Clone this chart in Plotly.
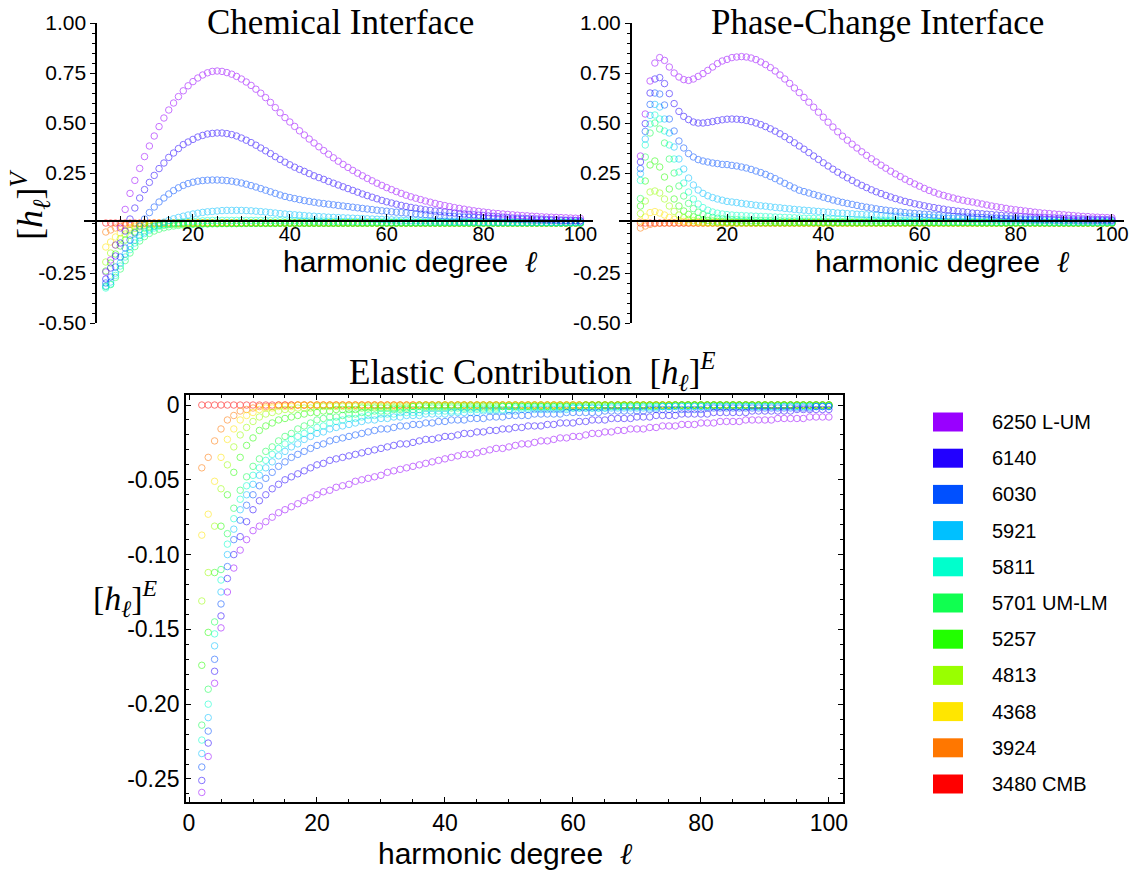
import plotly.graph_objects as go

W, H = 1134, 871

# harmonic degree l = 2 .. 100
L = list(range(2, 101))

# radius labels (km) and colours, deepest first
NAMES = ["3480 CMB", "3924", "4368", "4813", "5257", "5701 UM-LM",
         "5811", "5921", "6030", "6140", "6250 L-UM"]
COLORS = ["#ff0000", "#ff7700", "#ffe600", "#99ff00", "#22ff00", "#10ff50",
          "#00ffcc", "#00c0ff", "#0050ff", "#2200ff", "#9900ff"]

# ---------------- values in units of 1e-3, l = 2..100 ----------------
Z = [0, 0, 0, 0, 0, 0, 0, 0, 0, 0]

# ---- Chemical interface [h_l]^V ----
C_3480 = Z + Z + Z + Z + Z + Z + Z + Z + Z + [0, 0, 0, 0, 0, 0, 0, 0, 0]
C_3924 = [-45, -35, -25, -17, -11, -7, -4, -2, -1, -1,
          0, 0, 0, 0, 0, 0, 0, 0, 0, 0] + Z + Z + Z + Z + Z + Z + Z + [0, 0, 0, 0, 0, 0, 0, 0, 0]
C_4368 = [-120, -95, -70, -50, -35, -24, -16, -10, -6, -4,
          -2, -1, -1, 0, 0, 0, 0, 0, 0, 0] + Z + Z + Z + Z + Z + Z + Z + [0, 0, 0, 0, 0, 0, 0, 0, 0]
C_4813 = [-195, -150, -110, -78, -55, -38, -27, -19, -13, -9,
          -6, -4, -3, -2, -1, -1, 0, 0, 0, 0] + Z + Z + Z + Z + Z + Z + Z + [0, 0, 0, 0, 0, 0, 0, 0, 0]
C_5257 = [-240, -200, -155, -115, -85, -62, -45, -33, -25, -19,
          -15, -12, -10, -8, -7, -6, -5, -4, -4, -3,
          -3, -3, -2, -2, -2, -2, -2, -2, -2, -1,
          -1, -1, -1, -1, -1, -1, -1, -1, -1, -1,
          -1, -1, -1, -1, -1, -1, -1, -1, -1, 0] + Z + Z + Z + Z + [0, 0, 0, 0, 0, 0, 0, 0, 0]
C_5701 = [-318, -308, -272, -230, -188, -150, -118, -90, -68, -52,
          -40, -31, -24, -19, -15, -12, -10, -8, -7, -6,
          -5, -5, -4, -4, -3, -3, -3, -3, -2, -2,
          -2, -2, -2, -2, -2, -2, -1, -1, -1, -1,
          -1, -1, -1, -1, -1, -1, -1, -1, -1, -1,
          -1, -1, -1, -1, -1, 0, 0, 0, 0, 0] + Z + Z + Z + [0, 0, 0, 0, 0, 0, 0, 0, 0]
C_5811 = [-325, -305, -262, -215, -170, -133, -100, -74, -53, -37,
          -25, -16, -9, -4, -1, 2, 5, 7, 9, 10,
          11, 12, 13, 13, 13, 13, 13, 13, 13, 13,
          13, 13, 13, 13, 12, 12, 12, 11, 11, 11,
          10, 10, 10, 9, 9, 9, 8, 8, 8, 7,
          7, 7, 7, 6, 6, 6, 6, 5, 5, 5,
          5, 5, 4, 4, 4, 4, 4, 3, 3, 3,
          3, 3, 3, 3, 3, 2, 2, 2, 2, 2,
          2, 2, 2, 2, 2, 2, 2, 2, 2, 2,
          2, 2, 2, 1, 1, 1, 1, 1, 1]
C_5921 = [-315, -295, -250, -200, -155, -117, -86, -62, -45, -30,
          -17, -6, 4, 13, 21, 28, 34, 40, 45, 49,
          53, 56, 58, 60, 62, 63, 63, 63, 63, 62,
          61, 59, 57, 55, 52, 50, 47, 45, 43, 41,
          39, 37, 35, 34, 32, 31, 29, 28, 27, 26,
          25, 24, 23, 22, 21, 20, 19, 18, 17, 16,
          15, 14, 13, 13, 12, 11, 11, 10, 10, 9,
          9, 8, 8, 8, 7, 7, 7, 6, 6, 6,
          6, 5, 5, 5, 5, 5, 4, 4, 4, 4,
          4, 4, 3, 3, 3, 3, 3, 3, 3]
C_6030 = [-300, -270, -220, -170, -125, -85, -50, -15, 20, 52,
          80, 105, 125, 145, 162, 176, 188, 197, 204, 209,
          212, 214, 215, 215, 214, 212, 209, 205, 200, 194,
          187, 180, 172, 164, 156, 148, 140, 133, 127, 122,
          117, 112, 108, 104, 100, 97, 94, 91, 88, 85,
          82, 79, 76, 73, 70, 67, 64, 61, 59, 56,
          54, 52, 50, 48, 46, 44, 42, 40, 38, 36,
          35, 33, 32, 30, 29, 28, 27, 26, 25, 24,
          23, 22, 21, 20, 19, 18, 17, 16, 15, 14,
          14, 13, 12, 12, 11, 11, 10, 10, 9]
C_6140 = [-280, -225, -165, -100, -40, 20, 75, 125, 167, 203,
          238, 272, 300, 328, 350, 372, 392, 405, 418, 430,
          438, 445, 448, 450, 450, 447, 442, 435, 425, 414,
          402, 389, 375, 361, 347, 332, 318, 304, 291, 279,
          268, 258, 247, 236, 227, 218, 208, 199, 190, 181,
          172, 163, 154, 145, 137, 129, 121, 113, 106, 100,
          94, 88, 83, 78, 74, 70, 66, 63, 60, 57,
          55, 52, 50, 47, 45, 43, 41, 39, 37, 35,
          33, 31, 29, 27, 25, 24, 23, 22, 21, 20,
          19, 18, 17, 16, 15, 14, 14, 13, 12]
C_6250 = [-245, -185, -110, -25, 68, 148, 213, 273, 332, 385,
          435, 482, 525, 565, 600, 632, 661, 686, 707, 725,
          740, 751, 758, 760, 758, 752, 744, 733, 720, 705,
          688, 669, 649, 627, 603, 577, 551, 527, 505, 483,
          461, 440, 420, 400, 381, 362, 344, 326, 309, 293,
          278, 263, 249, 236, 223, 211, 199, 188, 177, 167,
          157, 148, 139, 131, 124, 117, 110, 104, 98, 92,
          87, 82, 77, 73, 69, 65, 61, 58, 55, 52,
          49, 47, 45, 43, 41, 39, 37, 36, 34, 33,
          31, 30, 29, 28, 27, 26, 25, 24, 23]

# ---- Phase-change interface [h_l]^V ----
P_3480 = Z + Z + Z + Z + Z + Z + Z + Z + Z + [0, 0, 0, 0, 0, 0, 0, 0, 0]
P_3924 = [-25, -15, -7, -3, -1, 0, 0, 0, 0, 0] + Z + Z + Z + Z + Z + Z + Z + Z + [0, 0, 0, 0, 0, 0, 0, 0, 0]
P_4368 = [10, 30, 52, 57, 50, 40, 28, 19, 12, 8,
          5, 3, 2, 1, 0, 0, 0, 0, 0, 0] + Z + Z + Z + Z + Z + Z + Z + [0, 0, 0, 0, 0, 0, 0, 0, 0]
P_4813 = [47, 110, 155, 160, 150, 120, 85, 58, 40, 27,
          18, 12, 8, 5, 3, 2, 2, 1, 1, 1] + Z + Z + Z + Z + Z + Z + Z + [0, 0, 0, 0, 0, 0, 0, 0, 0]
P_5257 = [85, 210, 290, 310, 280, 230, 170, 120, 85, 60,
          43, 31, 23, 17, 13, 10, 8, 7, 6, 5,
          5, 4, 4, 4, 3, 3, 3, 3, 3, 2,
          2, 2, 2, 2, 2, 2, 2, 2, 2, 2,
          2, 2, 2, 2, 1, 1, 1, 1, 1, 1,
          1, 1, 1, 1, 1, 1, 1, 1, 1, 1,
          1, 1, 1, 1, 1, 1, 1, 1, 1, 1] + Z + Z + [0, 0, 0, 0, 0, 0, 0, 0, 0]
P_5701 = [122, 330, 450, 500, 470, 400, 320, 250, 185, 135,
          98, 72, 54, 42, 34, 28, 24, 21, 19, 17,
          16, 15, 14, 13, 12, 12, 11, 11, 10, 10,
          9, 9, 9, 8, 8, 8, 7, 7, 7, 7,
          6, 6, 6, 6, 5, 5, 5, 5, 5, 4,
          4, 4, 4, 4, 4, 4, 4, 4, 4, 4,
          3, 3, 3, 3, 3, 3, 3, 3, 3, 3,
          3, 2, 2, 2, 2, 2, 2, 2, 2, 2,
          2, 2, 2, 1, 1, 1, 1, 1, 1, 1,
          1, 1, 1, 1, 1, 1, 1, 1, 1]
P_5811 = [213, 390, 495, 540, 520, 460, 390, 320, 255, 200,
          155, 120, 95, 77, 64, 55, 49, 45, 42, 40,
          38, 37, 36, 35, 34, 33, 32, 31, 30, 29,
          28, 27, 26, 25, 24, 23, 23, 22, 21, 20,
          20, 19, 18, 18, 17, 16, 16, 15, 15, 14,
          14, 13, 13, 12, 12, 11, 11, 11, 10, 10,
          9, 9, 9, 8, 8, 8, 7, 7, 7, 7,
          6, 6, 6, 6, 5, 5, 5, 5, 5, 4,
          4, 4, 4, 4, 4, 3, 3, 3, 3, 3,
          3, 3, 3, 3, 2, 2, 2, 2, 2]
P_5921 = [247, 420, 538, 593, 580, 520, 450, 380, 320, 270,
          225, 190, 165, 148, 136, 127, 120, 114, 108, 105,
          102, 98, 95, 92, 89, 86, 84, 81, 78, 76,
          73, 71, 68, 66, 64, 62, 60, 58, 56, 54,
          52, 50, 49, 47, 46, 44, 43, 41, 40, 39,
          37, 36, 35, 34, 33, 32, 31, 30, 29, 28,
          27, 26, 25, 24, 23, 22, 22, 21, 20, 19,
          19, 18, 17, 17, 16, 16, 15, 15, 14, 14,
          13, 13, 12, 12, 12, 11, 11, 11, 10, 10,
          10, 9, 9, 9, 8, 8, 8, 8, 7]
P_6030 = [272, 458, 593, 650, 645, 590, 520, 460, 410, 375,
          347, 330, 317, 310, 305, 300, 297, 293, 292, 288,
          285, 280, 275, 268, 260, 252, 243, 233, 222, 210,
          198, 186, 175, 164, 157, 150, 143, 136, 129, 122,
          115, 109, 103, 98, 93, 88, 83, 79, 75, 71,
          67, 64, 61, 58, 55, 52, 50, 48, 46, 44,
          42, 40, 38, 36, 35, 33, 32, 31, 30, 29,
          28, 27, 26, 25, 24, 23, 22, 21, 21, 20,
          19, 19, 18, 18, 17, 17, 16, 16, 15, 15,
          15, 14, 14, 14, 13, 13, 13, 12, 12]
P_6140 = [305, 497, 650, 720, 727, 697, 647, 597, 558, 533,
          517, 505, 500, 500, 503, 507, 512, 516, 519, 520,
          519, 517, 513, 507, 500, 492, 482, 471, 459, 446,
          432, 417, 401, 385, 369, 352, 335, 318, 301, 285,
          269, 254, 240, 226, 213, 200, 188, 177, 166, 156,
          147, 138, 130, 122, 115, 108, 102, 96, 91, 86,
          81, 77, 73, 69, 65, 62, 59, 56, 53, 50,
          48, 46, 44, 42, 40, 38, 36, 35, 33, 32,
          31, 30, 29, 28, 27, 26, 25, 24, 23, 22,
          21, 21, 20, 19, 19, 18, 17, 17, 16]
P_6250 = [335, 545, 710, 800, 827, 813, 780, 750, 730, 717,
          713, 720, 733, 747, 763, 780, 797, 810, 818, 827,
          830, 832, 830, 825, 817, 805, 792, 777, 760, 740,
          720, 698, 675, 652, 628, 604, 579, 554, 529, 504,
          480, 456, 434, 414, 394, 375, 356, 338, 321, 305,
          289, 274, 259, 245, 232, 219, 207, 195, 184, 173,
          163, 154, 145, 138, 131, 125, 119, 114, 109, 105,
          100, 95, 90, 85, 81, 77, 73, 69, 66, 63,
          60, 57, 54, 51, 49, 47, 45, 43, 41, 39,
          37, 35, 33, 32, 30, 29, 28, 27, 26]

# ---- Elastic contribution [h_l]^E ----
E_3480 = Z + Z + Z + Z + Z + Z + Z + Z + Z + [0, 0, 0, 0, 0, 0, 0, 0, 0]
E_3924 = [-42, -35, -24, -16, -10, -7, -4, -3, -2, -1,
          -1, -1, 0, 0, 0, 0, 0, 0, 0, 0] + Z + Z + Z + Z + Z + Z + Z + [0, 0, 0, 0, 0, 0, 0, 0, 0]
E_4368 = [-87, -73, -51, -35, -23, -16, -10, -7, -5, -3,
          -2, -2, -1, -1, -1, 0, 0, 0, 0, 0] + Z + Z + Z + Z + Z + Z + Z + [0, 0, 0, 0, 0, 0, 0, 0, 0]
E_4813 = [-131, -112, -81, -56, -40, -28, -20, -15, -11, -8,
          -6, -5, -4, -3, -3, -2, -2, -2, -1, -1,
          -1, -1, -1, -1, -1, -1, -1, -1, -1, -1,
          -1, -1, -1, -1, 0, 0, 0, 0, 0, 0] + Z + Z + Z + Z + Z + [0, 0, 0, 0, 0, 0, 0, 0, 0]
E_5257 = [-174, -152, -112, -81, -60, -45, -35, -27, -22, -17,
          -14, -12, -10, -9, -8, -7, -6, -5, -5, -4,
          -4, -3, -3, -3, -3, -2, -2, -2, -2, -2,
          -2, -2, -2, -1, -1, -1, -1, -1, -1, -1,
          -1, -1, -1, -1, -1, -1, -1, -1, -1, -1,
          -1, -1, -1, -1, -1, -1, -1, -1, -1, -1] + Z + Z + Z + [0, 0, 0, 0, 0, 0, 0, 0, 0]
E_5701 = [-214, -190, -145, -110, -86, -69, -57, -48, -41, -36,
          -31, -28, -24, -21, -19, -16, -14, -12, -10, -9,
          -8, -8, -7, -6, -6, -5, -5, -4, -4, -4,
          -3, -3, -3, -3, -3, -2, -2, -2, -2, -2,
          -2, -2, -2, -2, -2, -2, -2, -1, -1, -1,
          -1, -1, -1, -1, -1, -1, -1, -1, -1, -1,
          -1, -1, -1, -1, -1, -1, -1, -1, -1, -1,
          -1, -1, -1, -1, 0, 0, 0, 0, 0, 0] + Z + [0, 0, 0, 0, 0, 0, 0, 0, 0]
E_5811 = [-224, -200, -153, -117, -93, -76, -63, -54, -47, -42,
          -37, -33, -29, -26, -23, -21, -19, -17, -15, -14,
          -12, -11, -10, -9, -9, -8, -7, -7, -6, -6,
          -6, -5, -5, -5, -5, -4, -4, -4, -4, -4,
          -4, -3, -3, -3, -3, -3, -3, -3, -3, -2,
          -2, -2, -2, -2, -2, -2, -2, -2, -2, -2,
          -2, -2, -2, -2, -1, -1, -1, -1, -1, -1,
          -1, -1, -1, -1, -1, -1, -1, -1, -1, -1,
          -1, -1, -1, -1, -1, -1, -1, -1, -1, -1,
          -1, -1, -1, -1, -1, -1, -1, -1, -1]
E_5921 = [-233, -209, -161, -125, -100, -83, -70, -60, -53, -47,
          -42, -38, -34, -31, -28, -26, -23, -21, -19, -18,
          -16, -15, -14, -13, -12, -11, -10, -10, -9, -9,
          -8, -8, -7, -7, -7, -6, -6, -6, -6, -5,
          -5, -5, -5, -5, -4, -4, -4, -4, -4, -4,
          -3, -3, -3, -3, -3, -3, -3, -3, -2, -2,
          -2, -2, -2, -2, -2, -2, -2, -2, -2, -2,
          -2, -2, -1, -1, -1, -1, -1, -1, -1, -1,
          -1, -1, -1, -1, -1, -1, -1, -1, -1, -1,
          -1, -1, -1, -1, -1, -1, -1, -1, -1]
E_6030 = [-242, -218, -170, -133, -108, -90, -77, -67, -60, -54,
          -49, -45, -41, -38, -35, -33, -31, -29, -27, -26,
          -24, -23, -22, -21, -20, -19, -18, -17, -16, -16,
          -15, -14, -14, -13, -13, -12, -12, -11, -11, -10,
          -10, -10, -9, -9, -9, -8, -8, -8, -7, -7,
          -7, -7, -6, -6, -6, -6, -6, -5, -5, -5,
          -5, -5, -5, -4, -4, -4, -4, -4, -4, -4,
          -3, -3, -3, -3, -3, -3, -3, -3, -3, -2,
          -2, -2, -2, -2, -2, -2, -2, -2, -2, -2,
          -2, -2, -2, -2, -2, -2, -1, -1, -1]
E_6140 = [-251, -226, -178, -141, -116, -100, -88, -78, -70, -64,
          -60, -56, -53, -50, -48, -46, -44, -42, -40, -39,
          -37, -36, -35, -34, -33, -32, -31, -30, -29, -28,
          -27, -26, -26, -25, -24, -23, -23, -22, -21, -21,
          -20, -19, -19, -18, -18, -17, -17, -16, -16, -15,
          -15, -14, -14, -14, -13, -13, -12, -12, -12, -11,
          -11, -10, -10, -10, -9, -9, -9, -9, -8, -8,
          -8, -7, -7, -7, -7, -6, -6, -6, -6, -6,
          -5, -5, -5, -5, -5, -5, -4, -4, -4, -4,
          -4, -4, -4, -3, -3, -3, -3, -3, -3]
E_6250 = [-259, -235, -186, -149, -125, -109, -97, -90, -84, -81,
          -78, -75, -72, -70, -68, -66, -64, -62, -60, -58,
          -57, -55, -54, -53, -51, -50, -49, -48, -47, -45,
          -44, -43, -42, -41, -40, -39, -38, -37, -36, -35,
          -34, -33, -33, -32, -31, -30, -29, -29, -28, -27,
          -26, -26, -25, -24, -24, -23, -22, -22, -21, -21,
          -20, -19, -19, -18, -18, -17, -17, -16, -16, -16,
          -15, -15, -14, -14, -14, -13, -13, -13, -12, -12,
          -12, -11, -11, -11, -11, -10, -10, -10, -10, -10,
          -9, -9, -9, -9, -9, -8, -8, -8, -8]

CHEM = [C_3480, C_3924, C_4368, C_4813, C_5257, C_5701, C_5811, C_5921, C_6030, C_6140, C_6250]
PHASE = [P_3480, P_3924, P_4368, P_4813, P_5257, P_5701, P_5811, P_5921, P_6030, P_6140, P_6250]
ELAS = [E_3480, E_3924, E_4368, E_4813, E_5257, E_5701, E_5811, E_5921, E_6030, E_6140, E_6250]

for group in (CHEM, PHASE, ELAS):
    for s in group:
        assert len(s) == len(L), len(s)


def px(p):
    return p / W


def py(p):
    return 1 - p / H


SANS = "Liberation Sans, Arial, sans-serif"
SERIF = "Liberation Serif, Times New Roman, serif"

fig = go.Figure()
panels = [(CHEM, "x", "y"), (PHASE, "x2", "y2"), (ELAS, "x3", "y3")]
for data, xa, ya in panels:
    for name, col, vals in zip(NAMES, COLORS, data):
        fig.add_trace(go.Scatter(
            x=L, y=[v / 1000 for v in vals], mode="markers", name=name,
            xaxis=xa, yaxis=ya, showlegend=False, opacity=0.55,
            marker=dict(symbol="circle-open", size=6.5, color=col, line=dict(width=1)),
            hoverinfo="skip"))

top_ytick = [1.0, 0.75, 0.5, 0.25, -0.25, -0.5]
top_ytxt = ["%.2f" % v for v in top_ytick]
top_xtick = [20, 40, 60, 80, 100]

def top_x(domain, ypos):
    return dict(domain=domain, range=[-2.5, 102.5], anchor="free", position=ypos,
                showline=True, linecolor="black", linewidth=1.6, showgrid=False,
                zeroline=False, ticks="inside", ticklen=6, tickwidth=1.3,
                tickcolor="black", tickvals=top_xtick, ticklabelstandoff=-5,
                tickfont=dict(family=SANS, size=20, color="black"),
                minor=dict(dtick=5, tick0=0, ticks="inside", ticklen=4,
                           tickwidth=1, tickcolor="black"))

def top_y(xpos):
    return dict(domain=[py(323), py(23)], range=[-0.5, 1.0], anchor="free",
                position=xpos, showline=True, linecolor="black", linewidth=1.6,
                showgrid=False, zeroline=False, ticks="outside", ticklen=5,
                tickwidth=1.3, tickcolor="black", tickvals=top_ytick,
                ticktext=top_ytxt, tickfont=dict(family=SANS, size=21, color="black"),
                minor=dict(dtick=0.05, tick0=0, ticks="outside", ticklen=3,
                           tickwidth=1, tickcolor="black"))

bot_ytick = [0, -0.05, -0.10, -0.15, -0.20, -0.25]
bot_ytxt = ["0", "-0.05", "-0.10", "-0.15", "-0.20", "-0.25"]

fig.update_layout(
    width=W, height=H, autosize=False,
    margin=dict(l=0, r=0, t=0, b=0, pad=0, autoexpand=False),
    paper_bgcolor="white", plot_bgcolor="white", showlegend=False,
    xaxis=top_x([px(84), px(592.5)], py(221)),
    yaxis=top_y(px(96.2)),
    xaxis2=top_x([px(618.8), px(1124)], py(221)),
    yaxis2=top_y(px(630.8)),
    xaxis3=dict(domain=[px(186), px(843)], range=[-0.47, 102.2], anchor="y3",
                showline=True, mirror="allticks", linecolor="black", linewidth=1.6,
                showgrid=False, zeroline=False, ticks="inside", ticklen=5,
                tickwidth=1.3, tickcolor="black", tickvals=[0, 20, 40, 60, 80, 100],
                ticklabelstandoff=0,
                tickfont=dict(family=SANS, size=23, color="black"),
                minor=dict(dtick=5, tick0=0, ticks="inside", ticklen=3,
                           tickwidth=1, tickcolor="black")),
    yaxis3=dict(domain=[py(802), py(395)], range=[-0.2654, 0.0067], anchor="x3",
                showline=True, mirror="allticks", linecolor="black", linewidth=1.6,
                showgrid=False, zeroline=False, ticks="inside", ticklen=5,
                tickwidth=1.3, tickcolor="black", tickvals=bot_ytick,
                ticktext=bot_ytxt, tickfont=dict(family=SANS, size=23, color="black"),
                minor=dict(dtick=0.01, tick0=0, ticks="inside", ticklen=3,
                           tickwidth=1, tickcolor="black")),
)

ELL = "<span style='font-family:Liberation Serif'><i>ℓ</i></span>"
HV = "[<i>h</i><sub><i>ℓ</i></sub>]<sup><i>V</i></sup>"
HE = "[<i>h</i><sub><i>ℓ</i></sub>]<sup><i>E</i></sup>"

ann = []
def text(x, y, s, size, family, **kw):
    d = dict(x=px(x), y=py(y), xref="paper", yref="paper", text=s, showarrow=False,
             font=dict(family=family, size=size, color="black"),
             xanchor="center", yanchor="middle")
    d.update(kw)
    ann.append(d)

text(340, 1, "Chemical Interface", 35, SERIF, yanchor="top")
text(877, 1, "Phase-Change Interface", 35, SERIF, yanchor="top")
text(532, 372, "Elastic Contribution&nbsp;&nbsp;" + HE, 35, SERIF)
text(410, 262, "harmonic degree&nbsp;&nbsp;" + ELL, 30, SANS)
text(942, 262, "harmonic degree&nbsp;&nbsp;" + ELL, 30, SANS)
text(505, 871, "harmonic degree&nbsp;&nbsp;" + ELL, 30, SANS, yanchor="bottom",
     borderpad=0)
text(30, 205, HV, 36, SERIF, textangle=-90)
text(125, 598, HE, 34, SERIF)

shapes = []
y0 = 422
for i, (name, col) in enumerate(zip(NAMES[::-1], COLORS[::-1])):
    yc = y0 + i * 36.2
    shapes.append(dict(type="rect", xref="paper", yref="paper",
                       x0=px(933), x1=px(963), y0=py(yc + 9.5), y1=py(yc - 9.5),
                       fillcolor=col, line=dict(width=0)))
    text(990, yc, name, 20, SANS, xanchor="left")

fig.update_layout(annotations=ann, shapes=shapes)
fig.write_html("out.html")
